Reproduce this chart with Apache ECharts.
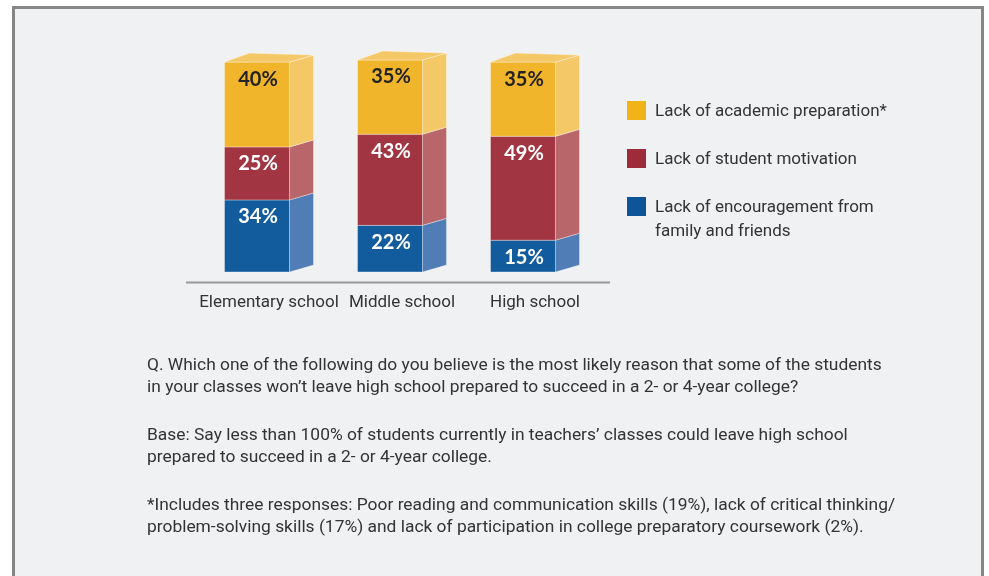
<!DOCTYPE html>
<html>
<head>
<meta charset="utf-8">
<script src="https://cdn.jsdelivr.net/npm/echarts@6/dist/echarts.min.js"></script>
<style>
html,body{margin:0;padding:0;background:#ffffff;}
#chart{width:989px;height:576px;}
</style>
</head>
<body>
<div id="chart"></div>
<script>
// ---- data ----
const categories = ['Elementary school', 'Middle school', 'High school'];
const seriesNames = ['Lack of encouragement from\nfamily and friends', 'Lack of student motivation', 'Lack of academic preparation*'];
const encouragement = [34, 22, 15];
const motivation = [25, 43, 49];
const academic = [40, 35, 35];
const noteParagraphs = [
  ['Q. Which one of the following do you believe is the most likely reason that some of the students',
   'in your classes won\u2019t leave high school prepared to succeed in a 2- or 4-year college?'],
  ['Base: Say less than 100% of students currently in teachers\u2019 classes could leave high school',
   'prepared to succeed in a 2- or 4-year college.'],
  ['*Includes three responses: Poor reading and communication skills (19%), lack of critical thinking/',
   'problem-solving skills (17%) and lack of participation in college preparatory coursework (2%).']
];

// ---- styles ----
const frontColors = ['#125C9E', '#A13541', '#F0B52B'];
const sideColors = ['#517DB6', '#B9666B', '#F5C867'];
const legendColors = ['#0D5598', '#9E2B39', '#F0B418'];
const labelColors = ['#ffffff', '#ffffff', '#222222'];

const layers = [encouragement, motivation, academic];
const chart = echarts.init(document.getElementById('chart'));

const series = layers.map((vals, li) => {
  const data = vals.map((v, ci) => {
    let base = 0;
    for (let k = 0; k < li; k++) base += layers[k][ci];
    return [ci, base, base + v, v];
  });
  const isTop = li === layers.length - 1;
  return {
    type: 'custom',
    name: seriesNames[li],
    data: data,
    renderItem: function (params, api) {
      const ci = api.value(0), b = api.value(1), t = api.value(2), v = api.value(3);
      const p0 = api.coord([ci, b]);
      const p1 = api.coord([ci, t]);
      const cx = p0[0];
      const w = 65, dx = 24, dy = -7;
      const x0 = cx - 44.5, x1 = x0 + w;
      const yB = p0[1], yT = p1[1];
      const edge = 'rgba(255,255,255,0.35)';
      const children = [
        { type: 'polygon', shape: { points: [[x1, yT], [x1 + dx, yT + dy], [x1 + dx, yB + dy], [x1, yB]] },
          style: { fill: sideColors[li], stroke: edge, lineWidth: 1 } },
        { type: 'rect', shape: { x: x0, y: yT, width: w, height: yB - yT },
          style: { fill: frontColors[li], stroke: edge, lineWidth: 1 } }
      ];
      if (isTop) {
        children.push({ type: 'polygon', shape: { points: [[x0, yT], [x1, yT], [x1 + dx, yT + dy], [x0 + dx + 1, yT + dy - 2]] },
          style: { fill: sideColors[li], stroke: edge, lineWidth: 1 } });
      }
      children.push({ type: 'text', style: { text: v + '%', x: x0 + w / 2 + 1, y: yT + 17,
        fill: labelColors[li], font: 'bold 20px Lato, "Open Sans", sans-serif', textAlign: 'center', textVerticalAlign: 'middle' } });
      return { type: 'group', children: children };
    }
  };
});

const graphics = [
  { type: 'rect', z: -10, shape: { x: 13.5, y: 7.5, width: 969, height: 620 },
    style: { fill: '#F0F1F3', stroke: '#868686', lineWidth: 3 } },
  { type: 'line', shape: { x1: 186, y1: 282.5, x2: 610, y2: 282.5 }, style: { stroke: '#999999', lineWidth: 2 } }
];
// legend (top-to-bottom: academic, motivation, encouragement)
[2, 1, 0].forEach((li, i) => {
  const y = 101 + i * 48;
  graphics.push({ type: 'rect', shape: { x: 627, y: y, width: 19, height: 19 }, style: { fill: legendColors[li] } });
  graphics.push({ type: 'text', style: { text: seriesNames[li], x: 655, y: y - 1, fill: '#333333',
    font: '17px Roboto, sans-serif', lineHeight: 24, textVerticalAlign: 'top' } });
});
noteParagraphs.forEach((para, pi) => {
  para.forEach((t, li) => {
    graphics.push({ type: 'text', style: { text: t, x: 147, y: 366 + pi * 70 + li * 22, fill: '#333333',
      font: '17.4px Roboto, sans-serif', textVerticalAlign: 'middle' } });
  });
});

chart.setOption({
  animation: false,
  backgroundColor: '#ffffff',
  grid: { left: 202.5, right: 387.5, top: 60, bottom: 304 },
  xAxis: {
    type: 'category', data: categories,
    axisLine: { show: false }, axisTick: { show: false },
    axisLabel: { color: '#333333', fontSize: 17, fontFamily: 'Roboto', margin: 22, interval: 0 }
  },
  yAxis: { type: 'value', min: 0, max: 100, show: false },
  series: series,
  graphic: graphics
});
</script>
</body>
</html>
